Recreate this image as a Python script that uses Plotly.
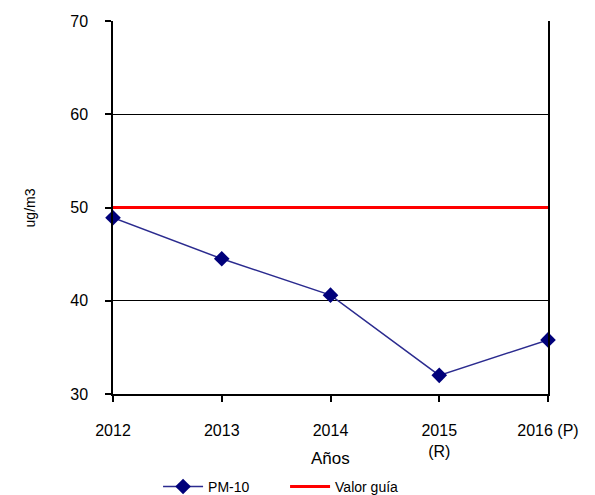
import plotly.graph_objects as go

years = ["2012", "2013", "2014", "2015<br>(R)", "2016 (P)"]
pm10 = [48.9, 44.5, 40.6, 32.0, 35.8]
valor_guia = [50, 50, 50, 50, 50]

fig = go.Figure()
fig.add_trace(go.Scatter(
    x=years, y=pm10, name="PM-10", mode="lines+markers",
    line=dict(color="#2b2b8f", width=1.5),
    marker=dict(symbol="diamond", size=12, color="#00007a"),
    cliponaxis=False,
))
fig.add_trace(go.Scatter(
    x=years, y=valor_guia, name="Valor guía", mode="lines",
    line=dict(color="#ff0000", width=3),
))

fig.update_layout(
    width=587, height=487,
    margin=dict(l=105, r=47, t=13, b=101, autoexpand=False),
    paper_bgcolor="white", plot_bgcolor="white",
    font=dict(family="Liberation Sans, Arial, sans-serif", color="black"),
    showlegend=True,
    legend=dict(orientation="h", xref="container", yref="paper",
                x=0.472, xanchor="center", y=-0.249, yanchor="middle",
                font=dict(size=14), itemwidth=40,
                entrywidth=72, entrywidthmode="pixels"),
    xaxis=dict(
        type="category", range=[0, 4], automargin=False,
        showgrid=False, showline=True, linecolor="black", linewidth=1.5,
        ticks="outside", ticklen=6, tickcolor="black", tickwidth=1.5,
        tickfont=dict(size=16), ticklabelstandoff=15,
        mirror=False, zeroline=False,
    ),
    yaxis=dict(
        range=[30, 70], tickvals=[30, 40, 50, 60, 70], automargin=False,
        showgrid=True, gridcolor="black", gridwidth=1,
        showline=True, linecolor="black", linewidth=1.5, mirror=True,
        ticks="outside", ticklen=6, tickcolor="black", tickwidth=1.5,
        tickfont=dict(size=16), ticklabelstandoff=14, zeroline=False,
    ),
    annotations=[
        dict(text="Años", xref="paper", yref="paper", x=0.5, y=-0.172,
             xanchor="center", yanchor="middle", showarrow=False,
             font=dict(size=17)),
        dict(text="ug/m3", xref="paper", yref="paper", x=-0.191, y=0.5,
             xanchor="center", yanchor="middle", showarrow=False,
             textangle=-90, font=dict(size=14)),
    ],
)

fig.write_html("out.html")
